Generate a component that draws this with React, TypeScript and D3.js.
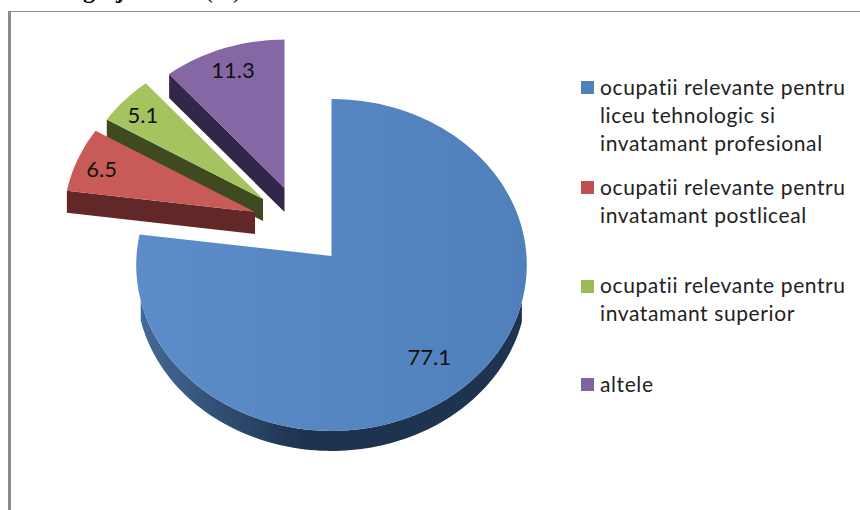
import * as d3 from "d3";

const categories = ["ocupatii relevante pentru liceu tehnologic si invatamant profesional", "ocupatii relevante pentru invatamant postliceal", "ocupatii relevante pentru invatamant superior", "altele"];
const values = [77.1, 6.5, 5.1, 11.3];
const legendLines = [
  ["ocupatii relevante pentru", "liceu tehnologic si", "invatamant profesional"],
  ["ocupatii relevante pentru", "invatamant postliceal"],
  ["ocupatii relevante pentru", "invatamant superior"],
  ["altele"],
];
const topColors = ["#5587c3", "#c85a58", "#a5c45f", "#8567a5"];
const sideColors = ["url(#blueSide)", "#622828", "#3f4a21", "#32274a"];
const swatchColors = ["#4f81bd", "#c0504d", "#9bbb59", "#8064a2"];

// pie plane -> screen, slight perspective so the front of the pie comes out bigger
const RX = 195;
const RY = 165.5;
const K = 0.054;
const APEX = [331.5, 256];
// exploded slices: shift and shrink on screen
const shiftX = [0, -76.5, -68.5, -47];
const shiftY = [0, -44, -57, -68];
const shrink = [1, 0.98, 0.96, 0.945];
const depth = [20, 22, 22, 24];
const labelT = [0.76, 0.84, 0.85, 0.82];
const labelNudgeX = [-3, -4, -2, -1];
const labelNudgeY = [3, 1, 1, -3];
const swatchY = [81, 181, 280, 378];
const legendY = [95, 195, 293, 392];

function project(a: number, t: number, i: number): [number, number] {
  const px = t * Math.sin(a);
  const py = -t * Math.cos(a);
  const w = 1 - K * py;
  return [
    APEX[0] + shiftX[i] + (shrink[i] * RX * px) / w,
    APEX[1] + shiftY[i] + (shrink[i] * RY * py) / w,
  ];
}

const line = d3.line();

function arcPoints(a0: number, a1: number, i: number) {
  const n = Math.max(2, Math.ceil((a1 - a0) * 40));
  return d3.range(n + 1).map((k) => project(a0 + ((a1 - a0) * k) / n, 1, i));
}

export default function App() {
  // values keep their order clockwise from 12 o'clock
  const arcs = d3.pie<number>().sort(null)(values);
  const order = [3, 2, 1, 0];

  return (
    <svg width={860} height={510} style={{ position: "absolute", left: 0, top: 0, background: "#fff" }}>
      <defs>
        <linearGradient id="blueSide" gradientUnits="userSpaceOnUse" x1={140} x2={527} y1={0} y2={0}>
          <stop offset="0" stopColor="#456a96" />
          <stop offset="0.22" stopColor="#2f4d72" />
          <stop offset="0.42" stopColor="#1e334e" />
          <stop offset="1" stopColor="#1e334e" />
        </linearGradient>
        <linearGradient id="blueTop" gradientUnits="userSpaceOnUse" x1={137} x2={527} y1={0} y2={0}>
          <stop offset="0" stopColor="#5c8dca" />
          <stop offset="1" stopColor="#4f80bb" />
        </linearGradient>
      </defs>

      {/* title is cropped by the top edge of the picture, only descenders show */}
      <g fontFamily="Liberation Serif" fontWeight="bold" fontSize={24}>
        <text x={83} y={-2}>g</text>
        <text x={116} y={-2}>j</text>
        <text x={205} y={-2} fontWeight="normal">(%)</text>
      </g>

      <line x1={9.5} x2={9.5} y1={11} y2={510} stroke="#8c8c8c" strokeWidth={3} />
      <line x1={8} x2={860} y1={11.5} y2={11.5} stroke="#8c8c8c" strokeWidth={1} />

      {order.map((i) => {
        const d = arcs[i];
        const pts = arcPoints(d.startAngle, d.endAngle, i);
        const apex = project(0, 0, i);
        const h = depth[i];
        // the wall: outer rim for the big slice, the lower radial edge for the exploded ones
        const wallTop: [number, number][] = i === 0 ? pts.filter((p) => p[1] > 300) : [apex, pts[0]];
        const wall = [...wallTop, ...[...wallTop].reverse().map((p) => [p[0], p[1] + h] as [number, number])];
        return (
          <g key={categories[i]}>
            <path d={line(wall) + "Z"} fill={sideColors[i]} />
            <path d={line([apex, ...pts]) + "Z"} fill={i === 0 ? "url(#blueTop)" : topColors[i]} />
          </g>
        );
      })}

      {arcs.map((d, i) => {
        const mid = (d.startAngle + d.endAngle) / 2;
        const [x, y] = project(mid, labelT[i], i);
        return (
          <text key={i} x={x + labelNudgeX[i]} y={y + 8 + labelNudgeY[i]} textAnchor="middle" fontFamily="Lato" fontSize={22} fill="#111">
            {values[i]}
          </text>
        );
      })}

      {legendLines.map((lines, i) => (
        <g key={i}>
          <rect x={581} y={swatchY[i]} width={13} height={13} fill={swatchColors[i]} />
          {lines.map((l, j) => (
            <text key={j} x={600} y={legendY[i] + j * 28} fontFamily="Lato" fontSize={21} letterSpacing={0.6} fill="#222">
              {l}
            </text>
          ))}
        </g>
      ))}
    </svg>
  );
}
